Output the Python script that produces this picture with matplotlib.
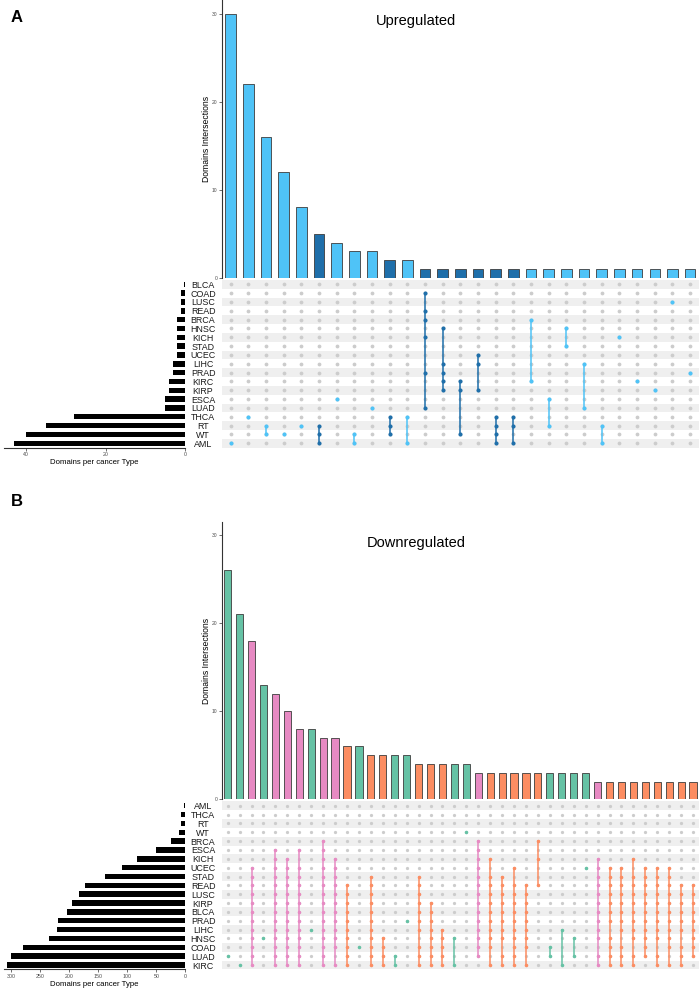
#!/usr/bin/env python3
import numpy as np
import matplotlib
matplotlib.use("Agg")
import matplotlib.pyplot as plt

plt.rcParams["font.family"] = ["Liberation Sans", "DejaVu Sans"]

W, H = 699, 988

# ---------------- Panel A : upregulated ----------------
up_sets = ["BLCA", "COAD", "LUSC", "READ", "BRCA", "HNSC", "KICH", "STAD", "UCEC",
           "LIHC", "PRAD", "KIRC", "KIRP", "ESCA", "LUAD", "THCA", "RT", "WT", "AML"]
up_set_size = [0.25, 1, 1, 1, 2, 2, 2, 2, 2, 3, 3, 4, 4, 5, 5, 28, 35, 40, 43]
up_counts = [30, 22, 16, 12, 8, 5, 4, 3, 3, 2, 2,
             1, 1, 1, 1, 1, 1, 1, 1, 1, 1, 1, 1, 1, 1, 1, 1]
up_members = [
    ["AML"], ["THCA"], ["RT", "WT"], ["WT"], ["RT"], ["RT", "WT", "AML"], ["ESCA"],
    ["WT", "AML"], ["LUAD"], ["THCA", "RT", "WT"], ["THCA", "AML"],
    ["COAD", "READ", "BRCA", "KICH", "PRAD", "LUAD"],
    ["HNSC", "LIHC", "PRAD", "KIRC", "KIRP"],
    ["KIRC", "KIRP", "WT"], ["UCEC", "LIHC", "KIRP"], ["THCA", "RT", "WT", "AML"],
    ["THCA", "RT", "AML"], ["BRCA", "KIRC"], ["ESCA", "RT"], ["HNSC", "STAD"],
    ["LIHC", "LUAD"], ["RT", "AML"], ["KICH"], ["KIRC"], ["KIRP"], ["LUSC"], ["PRAD"]]
# light = up to two cancer types, dark = three or more
up_group = ["light"] * 5 + ["dark"] + ["light"] * 3 + ["dark", "light"] + \
           ["dark"] * 6 + ["light"] * 10

# ---------------- Panel B : downregulated ----------------
down_sets = ["AML", "THCA", "RT", "WT", "BRCA", "ESCA", "KICH", "UCEC", "STAD", "READ",
             "LUSC", "KIRP", "BLCA", "PRAD", "LIHC", "HNSC", "COAD", "LUAD", "KIRC"]
down_set_size = [2, 8, 8, 11, 24, 51, 84, 110, 138, 173, 183, 195, 204, 220, 222,
                 235, 280, 300, 308]
down_counts = [26, 21, 18, 13, 12, 10, 8, 8, 7, 7, 6, 6, 5, 5, 5, 5, 4, 4, 4, 4, 4,
               3, 3, 3, 3, 3, 3, 3, 3, 3, 3, 2, 2, 2, 2, 2, 2, 2, 2, 2]
down_members = [
    ["LUAD"], ["KIRC"],
    ["UCEC", "STAD", "READ", "LUSC", "KIRP", "BLCA", "PRAD", "LIHC", "HNSC", "COAD", "LUAD", "KIRC"],
    ["HNSC"],
    ["ESCA", "KICH", "UCEC", "STAD", "READ", "LUSC", "KIRP", "BLCA", "PRAD", "LIHC", "HNSC", "COAD", "LUAD", "KIRC"],
    ["KICH", "UCEC", "STAD", "READ", "LUSC", "KIRP", "BLCA", "PRAD", "LIHC", "HNSC", "COAD", "LUAD", "KIRC"],
    ["ESCA", "UCEC", "STAD", "READ", "LUSC", "KIRP", "BLCA", "PRAD", "LIHC", "HNSC", "COAD", "LUAD", "KIRC"],
    ["LIHC"],
    ["BRCA", "ESCA", "KICH", "UCEC", "STAD", "READ", "LUSC", "KIRP", "BLCA", "PRAD", "LIHC", "HNSC", "COAD", "LUAD", "KIRC"],
    ["KICH", "UCEC", "STAD", "READ", "LUSC", "KIRP", "BLCA", "PRAD", "LIHC", "HNSC", "COAD", "KIRC"],
    ["READ", "LUSC", "KIRP", "BLCA", "PRAD", "LIHC", "HNSC", "COAD", "LUAD", "KIRC"],
    ["COAD"],
    ["STAD", "READ", "LUSC", "KIRP", "BLCA", "PRAD", "LIHC", "HNSC", "COAD", "LUAD", "KIRC"],
    ["HNSC", "COAD", "LUAD", "KIRC"],
    ["LUAD", "KIRC"], ["PRAD"],
    ["STAD", "READ", "LUSC", "KIRP", "BLCA", "PRAD", "LIHC", "COAD", "LUAD", "KIRC"],
    ["KIRP", "BLCA", "PRAD", "LIHC", "HNSC", "COAD", "LUAD", "KIRC"],
    ["LIHC", "HNSC", "COAD", "LUAD", "KIRC"],
    ["HNSC", "KIRC"], ["WT"],
    ["BRCA", "ESCA", "KICH", "UCEC", "STAD", "READ", "LUSC", "KIRP", "BLCA", "PRAD", "LIHC", "HNSC", "COAD", "LUAD"],
    ["KICH", "STAD", "READ", "LUSC", "KIRP", "BLCA", "PRAD", "LIHC", "HNSC", "COAD", "KIRC"],
    ["STAD", "READ", "LUSC", "KIRP", "BLCA", "PRAD", "LIHC", "HNSC", "LUAD", "KIRC"],
    ["UCEC", "READ", "LUSC", "KIRP", "BLCA", "PRAD", "LIHC", "HNSC", "COAD", "LUAD", "KIRC"],
    ["READ", "LUSC", "KIRP", "BLCA", "PRAD", "LIHC", "HNSC", "COAD", "KIRC"],
    ["BRCA", "KICH", "READ"],
    ["COAD", "LUAD"], ["LIHC", "KIRC"], ["HNSC", "LUAD"], ["UCEC"],
    ["KICH", "UCEC", "STAD", "READ", "LUSC", "KIRP", "BLCA", "PRAD", "LIHC", "HNSC", "LUAD", "KIRC"],
    ["UCEC", "STAD", "READ", "LUSC", "KIRP", "BLCA", "PRAD", "HNSC", "COAD", "LUAD", "KIRC"],
    ["UCEC", "STAD", "READ", "LUSC", "KIRP", "BLCA", "PRAD", "LIHC", "COAD", "LUAD", "KIRC"],
    ["KICH", "STAD", "READ", "LUSC", "KIRP", "BLCA", "PRAD", "LIHC", "HNSC", "LUAD", "KIRC"],
    ["UCEC", "STAD", "READ", "LUSC", "KIRP", "BLCA", "PRAD", "LIHC", "HNSC", "COAD", "LUAD"],
    ["UCEC", "STAD", "READ", "LUSC", "KIRP", "BLCA", "PRAD", "LIHC", "HNSC", "LUAD", "KIRC"],
    ["UCEC", "STAD", "READ", "LUSC", "KIRP", "BLCA", "PRAD", "LIHC", "HNSC", "COAD", "KIRC"],
    ["READ", "LUSC", "KIRP", "BLCA", "PRAD", "LIHC", "COAD", "LUAD", "KIRC"],
    ["READ", "LUSC", "KIRP", "BLCA", "PRAD", "LIHC", "HNSC", "COAD", "LUAD"]]
down_group = ["one", "one", "many", "one", "many", "many", "many", "one", "many", "many",
              "some", "one", "some", "some", "one", "one", "some", "some", "some", "one", "one",
              "many", "some", "some", "some", "some", "some", "one", "one", "one", "one",
              "many", "some", "some", "some", "some", "some", "some", "some", "some"]

up_palette = {"light": "#4FC3F7", "dark": "#1F6FAA"}
down_palette = {"one": "#66C2A5", "some": "#FC8D62", "many": "#E78AC3"}


def px_axes(fig, x0, y0, x1, y1):
    return fig.add_axes([x0 / W, 1 - y1 / H, (x1 - x0) / W, (y1 - y0) / H])


def draw_upset(fig, sets, set_size, counts, members, colors, g):
    n, m = len(counts), len(sets)
    xs = np.arange(n)
    xlim = (-0.5, n - 0.5)

    # intersection bars
    axb = px_axes(fig, g["x0"], g["bar_top"], g["x1"], g["bar_bot"])
    axb.bar(xs, counts, width=0.6, color=colors, edgecolor="#3c3c3c", linewidth=0.6)
    axb.set_xlim(*xlim)
    axb.set_ylim(0, g["ymax"])
    axb.set_yticks([0, 10, 20, 30])
    axb.set_xticks([])
    for s in ["top", "right", "bottom"]:
        axb.spines[s].set_visible(False)
    axb.spines["left"].set_linewidth(0.8)
    axb.spines["left"].set_color("#333333")
    axb.tick_params(axis="y", labelsize=3.6, length=2, width=0.5, pad=1.2,
                    colors="#333333", labelcolor="#4d4d4d")
    axb.text(-(g["x0"] - g["ylab_x"]) / (g["x1"] - g["x0"]), 0.5, "Domains Intersections",
             transform=axb.transAxes, rotation=90, ha="center", va="center", fontsize=6.2)

    # matrix
    mat_top = g["row0"] - g["dy"] / 2
    mat_bot = g["row0"] + g["dy"] * (m - 0.5)
    axm = px_axes(fig, g["x0"], mat_top, g["x1"], mat_bot)
    for r in range(0, m, 2):
        axm.axhspan(r - 0.5, r + 0.5, color="#EFEFEF", lw=0, zorder=0)
    X, Y = np.meshgrid(xs, np.arange(m))
    axm.scatter(X.ravel(), Y.ravel(), s=g["dot"], color="#CCCCCC", lw=0, zorder=1)
    for c, mem in enumerate(members):
        rows = sorted(sets.index(s) for s in mem)
        if len(rows) > 1:
            axm.plot([c, c], [rows[0], rows[-1]], color=colors[c], lw=1.1, zorder=2)
        axm.scatter([c] * len(rows), rows, s=g["dot"] * 1.15, color=colors[c], lw=0, zorder=3)
    axm.set_xlim(*xlim)
    axm.set_ylim(m - 0.5, -0.5)
    axm.set_xticks([])
    axm.set_yticks(range(m))
    axm.set_yticklabels(sets, fontsize=6.4, color="#1a1a1a")
    axm.tick_params(axis="y", length=0, pad=(g["x0"] - g["lab_x"]) * 72 / 100)
    for lab in axm.get_yticklabels():
        lab.set_horizontalalignment("center")
    for sp in axm.spines.values():
        sp.set_visible(False)

    # set sizes
    axs = px_axes(fig, g["s0"], mat_top, g["s1"], mat_bot)
    axs.barh(np.arange(m), set_size, height=0.62, color="black")
    axs.set_xlim(g["smax"], 0)
    axs.set_ylim(m - 0.5, -0.5)
    axs.set_yticks([])
    axs.set_xticks(g["sticks"])
    for s in ["top", "right", "left"]:
        axs.spines[s].set_visible(False)
    axs.spines["bottom"].set_linewidth(0.8)
    axs.spines["bottom"].set_color("#333333")
    axs.tick_params(axis="x", labelsize=3.8, length=2, width=0.5, pad=1.2,
                    colors="#333333", labelcolor="#4d4d4d")
    axs.set_xlabel("Domains per cancer Type", fontsize=5.6, labelpad=1.5)

    fig.text(g["title_x"] / W, 1 - g["title_y"] / H, g["title"], fontsize=10.5,
             ha="center", va="center")
    fig.text(g["tag_x"] / W, 1 - g["tag_y"] / H, g["tag"], fontsize=12,
             fontweight="bold", ha="center", va="center")


fig = plt.figure(figsize=(W / 100, H / 100), dpi=100)

geo_a = dict(x0=221.7, x1=699, bar_top=0, bar_bot=277.7, ymax=31.6, ylab_x=206.5,
             row0=284.3, dy=8.83, dot=7.5, lab_x=203, s0=4, s1=185.3, smax=45.5,
             sticks=[0, 20, 40], title="Upregulated", title_x=416, title_y=21,
             tag="A", tag_x=17, tag_y=18)
geo_b = dict(x0=221.7, x1=699, bar_top=522, bar_bot=799.3, ymax=31.5, ylab_x=206.5,
             row0=805.7, dy=8.85, dot=5.5, lab_x=203, s0=4, s1=185.3, smax=312.6,
             sticks=[0, 50, 100, 150, 200, 250, 300], title="Downregulated", title_x=416,
             title_y=543, tag="B", tag_x=17, tag_y=501)

draw_upset(fig, up_sets, up_set_size, up_counts, up_members,
           [up_palette[k] for k in up_group], geo_a)
draw_upset(fig, down_sets, down_set_size, down_counts, down_members,
           [down_palette[k] for k in down_group], geo_b)

fig.savefig("out.png", dpi=100)
